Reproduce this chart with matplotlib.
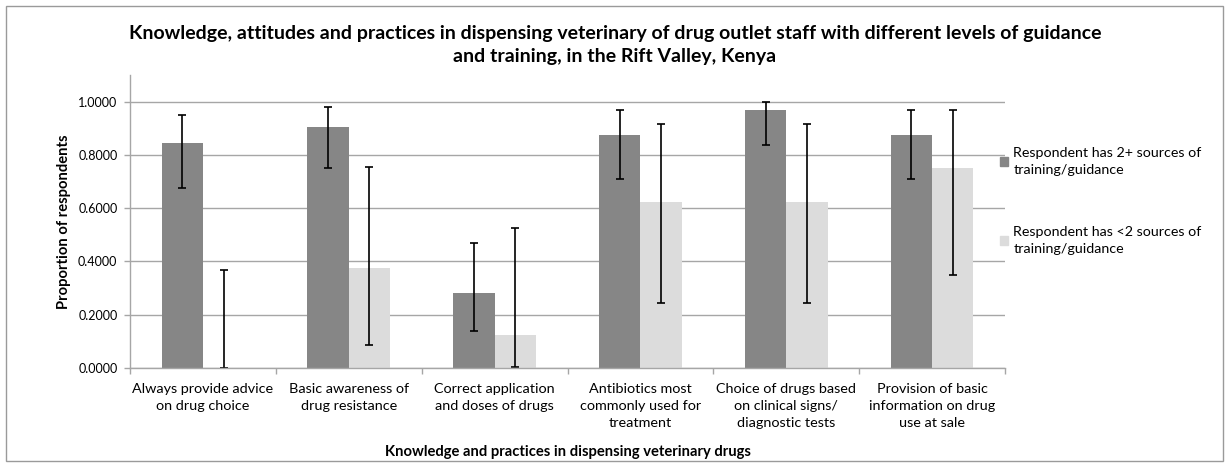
import numpy as np
import matplotlib
matplotlib.use("Agg")
import matplotlib.pyplot as plt
from matplotlib.patches import Patch, Rectangle

plt.rcParams['font.family'] = ['Lato', 'DejaVu Sans']

categories = [
    "Always provide advice\non drug choice",
    "Basic awareness of\ndrug resistance",
    "Correct application\nand doses of drugs",
    "Antibiotics most\ncommonly used for\ntreatment",
    "Choice of drugs based\non clinical signs/\ndiagnostic tests",
    "Provision of basic\ninformation on drug\nuse at sale",
]
series_names = [
    "Respondent has 2+ sources of\ntraining/guidance",
    "Respondent has <2 sources of\ntraining/guidance",
]

# proportions and 95% CI bounds per group
trained = [0.8462, 0.9062, 0.2812, 0.8750, 0.9688, 0.8750]
trained_lo = [0.6747, 0.7502, 0.1374, 0.7101, 0.8378, 0.7101]
trained_hi = [0.9485, 0.9812, 0.4689, 0.9670, 1.0000, 0.9670]

untrained = [0.0000, 0.3750, 0.1250, 0.6250, 0.6250, 0.7500]
untrained_lo = [0.0000, 0.0852, 0.0032, 0.2449, 0.2449, 0.3491]
untrained_hi = [0.3694, 0.7551, 0.5265, 0.9148, 0.9148, 0.9681]

DARK = "#868686"
LIGHT = "#dcdcdc"
GRID = "#a6a6a6"

fig = plt.figure(figsize=(12.25, 4.65), dpi=100)
ax = fig.add_axes([130 / 1225, 97 / 465, 875 / 1225, 293 / 465])

x = np.arange(len(categories))
w = 0.283

def err(vals, lo, hi):
    vals = np.array(vals)
    return np.vstack([vals - np.array(lo), np.array(hi) - vals])

ekw = dict(ecolor="black", elinewidth=1.2, capsize=3, capthick=1.2)
ax.bar(x - w / 2, trained, w, color=DARK, zorder=2,
       yerr=err(trained, trained_lo, trained_hi), error_kw=ekw)
ax.bar(x + w / 2, untrained, w, color=LIGHT, zorder=2,
       yerr=err(untrained, untrained_lo, untrained_hi), error_kw=ekw)

ax.set_xlim(-0.5, len(categories) - 0.5)
ax.set_ylim(0, 1.1)
ax.set_yticks(np.arange(0, 1.01, 0.2))
ax.set_yticklabels([f"{v:.4f}" for v in np.arange(0, 1.01, 0.2)], fontsize=9)
ax.yaxis.grid(True, color=GRID, linewidth=1, zorder=0)
ax.set_axisbelow(True)

ax.set_xticks(x)
ax.set_xticklabels(categories, fontsize=10.4, linespacing=1.5)
ax.tick_params(axis="x", length=0, pad=11)
ax.set_xticks(np.arange(-0.5, len(categories)), minor=True)
ax.tick_params(axis="x", which="minor", length=4, color=GRID, width=1)
ax.tick_params(axis="y", length=4, color=GRID, width=1, pad=5)

for s in ["top", "right"]:
    ax.spines[s].set_visible(False)
for s in ["left", "bottom"]:
    ax.spines[s].set_color(GRID)
    ax.spines[s].set_linewidth(1)

ax.set_ylabel("Proportion of respondents", fontsize=10.6, fontweight="bold", labelpad=5)
ax.set_xlabel("Knowledge and practices in dispensing veterinary drugs",
              fontsize=10.6, fontweight="bold", labelpad=11)

fig.text(0.502, 1 - 45 / 465,
         "Knowledge, attitudes and practices in dispensing veterinary of drug outlet staff with different levels of guidance\nand training, in the Rift Valley, Kenya",
         ha="center", va="center", fontsize=14, fontweight="bold", linespacing=1.38)

handles = [Patch(color=DARK), Patch(color=LIGHT)]
leg = fig.legend(handles, series_names, loc="upper left",
                 bbox_to_anchor=(987 / 1225, 1 - 134 / 465), frameon=False,
                 fontsize=10.3, handlelength=0.6, handleheight=0.6, handletextpad=0.35,
                 labelspacing=3.5)
for t in leg.get_texts():
    t.set_linespacing(1.5)

fig.patches.append(Rectangle((6 / 1225, 4 / 465), 1217 / 1225, 455 / 465,
                             transform=fig.transFigure, fill=False,
                             edgecolor="#9a9a9a", linewidth=1))

fig.savefig("out.png", dpi=100)
